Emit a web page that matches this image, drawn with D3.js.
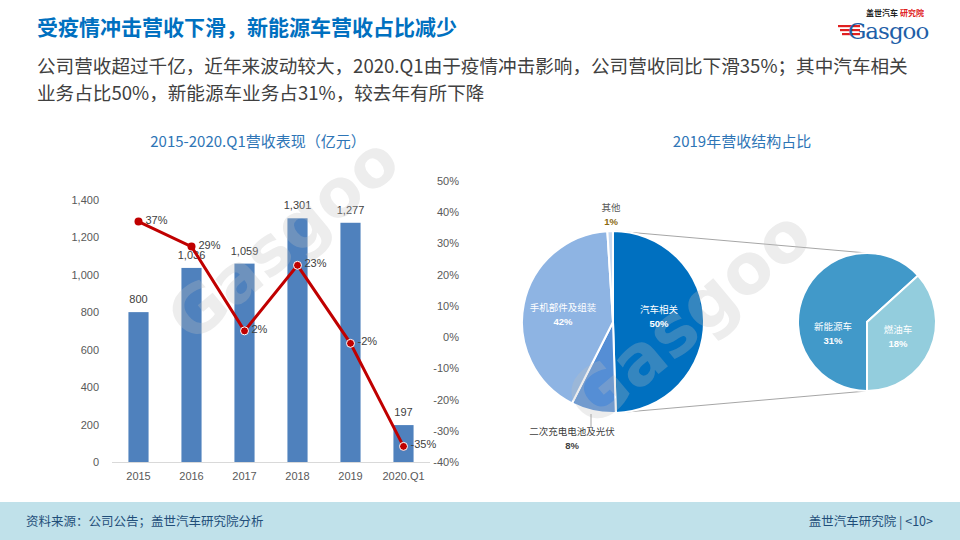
<!DOCTYPE html>
<html><head><meta charset="utf-8">
<script src="https://cdn.jsdelivr.net/npm/d3@7"></script>
<style>body{margin:0;background:#fff;}svg{display:block;}</style>
</head><body>
<svg id="c" width="960" height="540"></svg>
<script>
const years = ["2015","2016","2017","2018","2019","2020.Q1"];
const revenue = [800, 1036, 1059, 1301, 1277, 197];
const revenueLabels = ["800","1,036","1,059","1,301","1,277","197"];
const growth = [37, 29, 2, 23, -2, -35];
const leftTicks = [0,200,400,600,800,1000,1200,1400];
const rightTicks = [-40,-30,-20,-10,0,10,20,30,40,50];
const pieNames = ["汽车相关","二次充电电池及光伏","手机部件及组装","其他"];
const pieValues = [50, 8, 42, 1];
const subNames = ["新能源车","燃油车"];
const subValues = [31, 18];
const subtitleLines = ["公司营收超过千亿，近年来波动较大，2020.Q1由于疫情冲击影响，公司营收同比下滑35%；其中汽车相关",
                       "业务占比50%，新能源车业务占31%，较去年有所下降"];

const svg = d3.select("#c");
const CJK = "'Noto Sans CJK SC','Noto Sans',sans-serif";
const ARIAL = "'Liberation Sans',Arial,sans-serif";

function wm(x,y,rot,size,txt){
  return svg.append("text").attr("transform",`translate(${x},${y}) rotate(${rot})`).attr("font-family","'DejaVu Sans',sans-serif")
   .attr("font-size",size).attr("font-weight","bold").attr("fill","#bfbfbf").attr("opacity",0.28).text(txt);
}

// Header
svg.append("text").attr("x",37).attr("y",35).attr("font-family",CJK).attr("font-size",21).attr("font-weight","bold")
  .attr("fill","#0070C0").text("受疫情冲击营收下滑，新能源车营收占比减少");
subtitleLines.forEach((t,i)=>svg.append("text").attr("x",37).attr("y",73+i*27)
  .attr("font-family",CJK).attr("font-size",18.6).attr("fill","#404040").text(t));

// Logo
const logo = svg.append("g");
logo.append("text").attr("x",866).attr("y",16).attr("font-family",CJK).attr("font-size",8).attr("font-weight","bold").attr("fill","#222").text("盖世汽车");
logo.append("text").attr("x",900).attr("y",16).attr("font-family",CJK).attr("font-size",8).attr("font-weight","bold").attr("fill","#E02020").text("研究院");
[0,1,2].forEach(i=>logo.append("rect").attr("x",838+i*2).attr("y",25+i*4).attr("width",22-i*2).attr("height",2.2).attr("fill","#E02020"));
logo.append("text").attr("x",848).attr("y",39).attr("font-family","'DejaVu Serif',serif").attr("font-size",23).attr("fill","#1F5FA8").attr("letter-spacing",-1).text("Gasgoo");

// Bar chart
const x = d3.scaleBand().domain(years).range([112,430]).paddingInner(0.62).paddingOuter(0.31);
const yL = d3.scaleLinear().domain([0,1500]).range([462,181]);
const yR = d3.scaleLinear().domain([-40,50]).range([462,181]);

svg.append("text").attr("x",258).attr("y",147).attr("text-anchor","middle").attr("font-family",CJK).attr("font-size",15)
  .attr("fill","#2E75B6").text("2015-2020.Q1营收表现（亿元）");

const gL = svg.append("g").attr("transform","translate(112,0)")
  .call(d3.axisLeft(yL).tickValues(leftTicks).tickFormat(d3.format(",")).tickSize(0).tickPadding(13));
gL.select(".domain").remove();
gL.selectAll("text").attr("font-family",ARIAL).attr("font-size",11).attr("fill","#595959");

const gR = svg.append("g").attr("transform","translate(430,0)")
  .call(d3.axisRight(yR).tickValues(rightTicks).tickFormat(d=>d+"%").tickSize(0).tickPadding(29));
gR.select(".domain").remove();
gR.selectAll("text").attr("font-family",ARIAL).attr("font-size",11).attr("fill","#595959").attr("text-anchor","end");

svg.selectAll(".bar").data(years).enter().append("rect").attr("class","bar")
  .attr("x",d=>x(d)).attr("width",x.bandwidth())
  .attr("y",(d,i)=>yL(revenue[i])).attr("height",(d,i)=>yL(0)-yL(revenue[i])).attr("fill","#4F81BD");

svg.append("line").attr("x1",112).attr("x2",430).attr("y1",yL(0)+0.5).attr("y2",yL(0)+0.5).attr("stroke","#D9D9D9");

const gX = svg.append("g").attr("transform",`translate(0,${yL(0)})`).call(d3.axisBottom(x).tickSize(0).tickPadding(10));
gX.select(".domain").remove();
gX.selectAll("text").attr("font-family",ARIAL).attr("font-size",11).attr("fill","#595959");

svg.selectAll(".bl").data(years).enter().append("text").attr("class","bl")
  .attr("x",d=>x(d)+x.bandwidth()/2).attr("y",(d,i)=>yL(revenue[i])-9).attr("text-anchor","middle")
  .attr("font-family",ARIAL).attr("font-size",11).attr("fill","#404040").text((d,i)=>revenueLabels[i]);

wm(192,345,-40,66,"Gasgoo");

const line = d3.line().x((d,i)=>x(years[i])+x.bandwidth()/2).y(d=>yR(d));
svg.append("path").datum(growth).attr("d",line).attr("fill","none").attr("stroke","#C00000").attr("stroke-width",3);
svg.selectAll(".pt").data(growth).enter().append("circle")
  .attr("cx",(d,i)=>x(years[i])+x.bandwidth()/2).attr("cy",d=>yR(d)).attr("r",4)
  .attr("fill","#C00000").attr("stroke",(d,i)=>i<2?"none":"#fff").attr("stroke-width",1);
svg.selectAll(".gl").data(growth).enter().append("text")
  .attr("x",(d,i)=>x(years[i])+x.bandwidth()/2+7).attr("y",d=>yR(d)+1).attr("dy","0.1em")
  .attr("font-family",ARIAL).attr("font-size",11).attr("fill","#404040").text(d=>d+"%");

// Pie chart
svg.append("text").attr("x",742).attr("y",147).attr("text-anchor","middle").attr("font-family",CJK).attr("font-size",15)
  .attr("fill","#2E75B6").text("2019年营收结构占比");

const cx1=613, cy1=322, r1=91;
const cx2=867, cy2=322, r2=69;
svg.append("line").attr("x1",cx1+2).attr("y1",cy1-r1).attr("x2",cx2).attr("y2",cy2-r2).attr("stroke","#A6A6A6");
svg.append("line").attr("x1",cx1+2).attr("y1",cy1+r1).attr("x2",cx2).attr("y2",cy2+r2).attr("stroke","#A6A6A6");

const pieColors = ["#0070C0","#558ED5","#8EB4E3","#C6D9F1"];
const arcs = d3.pie().sort(null).value(d=>d)(pieValues);
const arc = d3.arc().innerRadius(0).outerRadius(r1);
const g1 = svg.append("g").attr("transform",`translate(${cx1},${cy1})`);
g1.selectAll("path").data(arcs).enter().append("path").attr("d",arc).attr("fill",(d,i)=>pieColors[i])
  .attr("stroke","#fff").attr("stroke-width",2);

const subColors = ["#4199C9","#93CDDD"];
const arcs2 = d3.pie().sort(null).startAngle(Math.PI).endAngle(3*Math.PI).value(d=>d)(subValues);
const arc2 = d3.arc().innerRadius(0).outerRadius(r2);
const g2 = svg.append("g").attr("transform",`translate(${cx2},${cy2})`);
g2.selectAll("path").data(arcs2).enter().append("path").attr("d",arc2).attr("fill",(d,i)=>subColors[i])
  .attr("stroke","#fff").attr("stroke-width",2);

wm(592,430,-40,70,"Gasgoo");

function lbl(xp,yp,name,pct,col,pcol){
  svg.append("text").attr("x",xp).attr("y",yp).attr("text-anchor","middle").attr("font-family",CJK).attr("font-size",9.5).attr("fill",col).text(name);
  svg.append("text").attr("x",xp).attr("y",yp+14).attr("text-anchor","middle").attr("font-family",ARIAL).attr("font-size",9.5).attr("font-weight","bold").attr("fill",pcol||col).text(pct);
}
lbl(659,313,pieNames[0],pieValues[0]+"%","#fff");
lbl(563,311,pieNames[2],pieValues[2]+"%","#fff");
lbl(611,211,pieNames[3],pieValues[3]+"%","#595959","#8A6A10");
lbl(572,435,pieNames[1],pieValues[1]+"%","#404040");
svg.append("line").attr("x1",591).attr("y1",414).attr("x2",591).attr("y2",428).attr("stroke","#A6A6A6");
lbl(833,330,subNames[0],subValues[0]+"%","#fff");
lbl(898,333,subNames[1],subValues[1]+"%","#fff");

// Footer
svg.append("rect").attr("x",0).attr("y",502).attr("width",960).attr("height",38).attr("fill","#C0E1EA");
svg.append("text").attr("x",26).attr("y",526).attr("font-family",CJK).attr("font-size",12.5).attr("fill","#1F4E79").text("资料来源：公司公告；盖世汽车研究院分析");
svg.append("text").attr("x",933).attr("y",526).attr("text-anchor","end").attr("font-family",CJK).attr("font-size",12.5).attr("fill","#1F4E79").text("盖世汽车研究院 | <10>");
</script>
</body></html>
